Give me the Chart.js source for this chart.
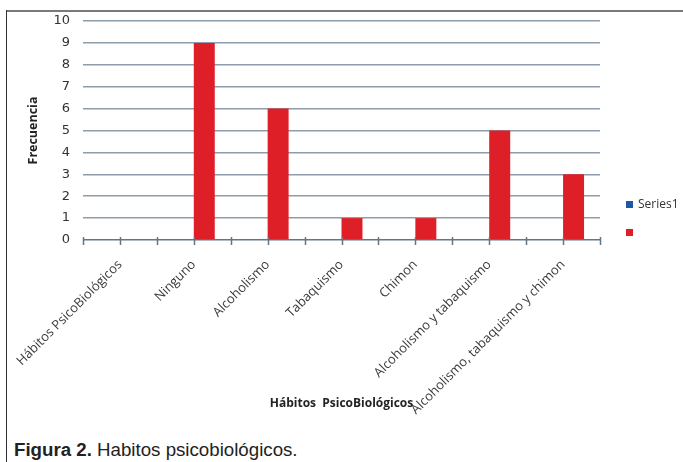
<!DOCTYPE html>
<html lang="es">
<head>
<meta charset="utf-8">
<title>Hábitos psicobiológicos</title>
<script src="https://cdn.jsdelivr.net/npm/chart.js@4/dist/chart.umd.min.js"></script>
<style>
  body { margin: 0; background: #fff; }
  #page { position: relative; width: 683px; height: 462px; overflow: hidden; }
  .frame-top { position: absolute; left: 6px; top: 10px; width: 677px; height: 2px; background: #7a7a7a; }
  .frame-left { position: absolute; left: 6px; top: 10px; width: 1px; height: 452px; background: #333; }
  #chartBox { position: absolute; left: 7px; top: 13px; width: 676px; height: 420px; }
  #legend { position: absolute; left: 626px; top: 197px; font: 12px 'Open Sans', sans-serif; color: #333; }
  #legend div { height: 28px; line-height: 14px; white-space: nowrap; }
  #legend span.box { display: inline-block; width: 7px; height: 7px; margin-right: 5px; vertical-align: 0px; }
  .caption { position: absolute; left: 14px; top: 441px; font: 18.7px 'Liberation Sans', Arial, sans-serif; line-height: 18px; color: #222; }
</style>
</head>
<body>
<div id="page">
  <div class="frame-top"></div>
  <div class="frame-left"></div>
  <div id="chartBox"><canvas id="habitosChart"></canvas></div>
  <div id="legend"></div>
  <div class="caption"><b>Figura 2.</b> Habitos psicobiológicos.</div>
</div>
<script>
// Datos
const categories = [
  'Hábitos PsicoBiológicos',
  'Ninguno',
  'Alcoholismo',
  'Tabaquismo',
  'Chimon',
  'Alcoholismo y tabaquismo',
  'Alcoholismo, tabaquismo y chimon'
];
const series1Values = [0, 0, 0, 0, 0, 0, 0];
const series2Values = [0, 9, 6, 1, 1, 5, 3];
const yTickValues = [0, 1, 2, 3, 4, 5, 6, 7, 8, 9, 10];

const gridColor = '#8e9cab';
const axisColor = '#627686';

// marcas del eje x (en los bordes y en el centro de cada categoría)
const axisTicks = {
  id: 'axisTicks',
  afterDatasetsDraw(chart) {
    const xs = chart.scales.x;
    const y0 = chart.scales.y.getPixelForValue(0);
    const step = xs.width / (categories.length * 2);
    const ctx = chart.ctx;
    ctx.save();
    ctx.strokeStyle = axisColor;
    ctx.lineWidth = 1.5;
    ctx.beginPath();
    for (let k = 0; k <= categories.length * 2; k++) {
      const px = Math.round(xs.left + k * step) + 0.5;
      ctx.moveTo(px, y0 - 3);
      ctx.lineTo(px, y0 + 5);
    }
    ctx.stroke();
    ctx.restore();
  }
};

const ctx = document.getElementById('habitosChart').getContext('2d');
const chart = new Chart(ctx, {
  type: 'bar',
  data: {
    labels: categories,
    datasets: [
      {
        label: 'Series1',
        data: series1Values,
        backgroundColor: '#1f57a8',
        borderWidth: 0
      },
      {
        label: '',
        data: series2Values,
        backgroundColor: '#df1f27',
        borderWidth: 0
      }
    ]
  },
  options: {
    responsive: true,
    maintainAspectRatio: false,
    animation: false,
    categoryPercentage: 0.568,
    barPercentage: 1,
    layout: { padding: { top: 8, right: 83, bottom: 0, left: 0 } },
    plugins: {
      legend: { display: false },
      tooltip: { enabled: false }
    },
    scales: {
      x: {
        grid: { display: false },
        border: { display: false },
        ticks: {
          autoSkip: false,
          maxRotation: 45,
          minRotation: 45,
          padding: 9,
          color: '#3a3a3a',
          font: { family: "'Open Sans'", size: 13 }
        },
        title: {
          display: true,
          text: 'Hábitos  PsicoBiológicos',
          color: '#222',
          font: { family: "'Open Sans'", size: 12, weight: 'bold' },
          padding: { top: 0, bottom: 22 }
        },
        afterFit(scale) {
          scale.height = 193;
          scale.paddingLeft = 0;
          scale.paddingRight = 0;
        }
      },
      y: {
        min: 0,
        max: 10,
        afterBuildTicks(scale) {
          scale.ticks = yTickValues.map(v => ({ value: v }));
        },
        grid: {
          drawTicks: false,
          lineWidth: 1.5,
          color: c => (c.tick && c.tick.value === 0 ? axisColor : gridColor)
        },
        border: { display: false },
        ticks: {
          padding: 13,
          color: '#333',
          font: { family: "'DejaVu Sans'", size: 13 }
        },
        title: {
          display: true,
          text: 'Frecuencia',
          color: '#222',
          font: { family: "'Open Sans'", size: 12.5, weight: 'bold' },
          padding: { top: 19, bottom: 0 }
        },
        afterFit(scale) {
          scale.width = 76;
          scale.paddingTop = 0;
          scale.paddingBottom = 0;
        }
      }
    }
  },
  plugins: [axisTicks]
});

// leyenda en HTML a partir de los datasets
const legendEl = document.getElementById('legend');
chart.data.datasets.forEach(ds => {
  const row = document.createElement('div');
  const box = document.createElement('span');
  box.className = 'box';
  box.style.background = ds.backgroundColor;
  row.appendChild(box);
  row.appendChild(document.createTextNode(ds.label));
  legendEl.appendChild(row);
});
</script>
</body>
</html>
